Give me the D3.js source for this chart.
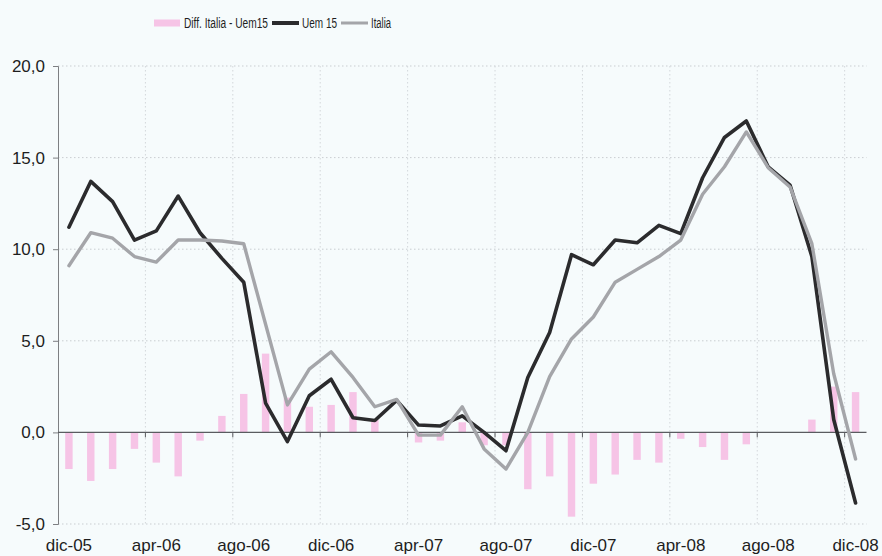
<!DOCTYPE html>
<html>
<head>
<meta charset="utf-8">
<script src="https://cdn.jsdelivr.net/npm/d3@7"></script>
<style>
	html, body { margin: 0; padding: 0; background: #f6fbfc; }
	svg { display: block; font-family: 'Liberation Sans', Arial, sans-serif; }
</style>
</head>
<body>
<svg id="chart"></svg>
<script>
// monthly figures, dic-05 .. dic-08
const months = [
	'dic-05', 'gen-06', 'feb-06', 'mar-06', 'apr-06', 'mag-06', 'giu-06', 'lug-06', 'ago-06',
	'set-06', 'ott-06', 'nov-06', 'dic-06', 'gen-07', 'feb-07', 'mar-07', 'apr-07', 'mag-07',
	'giu-07', 'lug-07', 'ago-07', 'set-07', 'ott-07', 'nov-07', 'dic-07', 'gen-08', 'feb-08',
	'mar-08', 'apr-08', 'mag-08', 'giu-08', 'lug-08', 'ago-08', 'set-08', 'ott-08', 'nov-08', 'dic-08'
];
const uem15 = [
	11.2, 13.7, 12.6, 10.5, 11.0, 12.9, 10.9, 9.5, 8.2,
	1.6, -0.5, 2.0, 2.9, 0.8, 0.65, 1.75, 0.4, 0.35,
	0.9, 0.0, -1.0, 3.0, 5.45, 9.7, 9.15, 10.5, 10.35,
	11.3, 10.85, 13.9, 16.1, 17.0, 14.5, 13.5, 9.6, 0.7, -3.85
];
const italia = [
	9.1, 10.9, 10.6, 9.6, 9.3, 10.5, 10.5, 10.45, 10.3,
	5.9, 1.5, 3.45, 4.4, 3.0, 1.4, 1.8, -0.15, -0.15,
	1.4, -0.9, -2.0, 0.0, 3.05, 5.1, 6.3, 8.2, 8.9,
	9.6, 10.5, 13.0, 14.5, 16.4, 14.45, 13.4, 10.3, 3.2, -1.45
];
const diff = [
	-2.0, -2.65, -2.0, -0.9, -1.65, -2.4, -0.45, 0.9, 2.1,
	4.3, 1.9, 1.4, 1.5, 2.2, 0.7, 0, -0.55, -0.45,
	0.55, -0.7, -0.7, -3.1, -2.4, -4.6, -2.8, -2.3, -1.5,
	-1.65, -0.35, -0.8, -1.5, -0.65, 0, 0, 0.7, 2.5, 2.2
];
const yTicks = [-5, 0, 5, 10, 15, 20];
const legendItems = [
	{ label: 'Diff. Italia - Uem15', kind: 'bar', width: 84 },
	{ label: 'Uem 15', kind: 'uem', width: 35 },
	{ label: 'Italia', kind: 'ita', width: 20 }
];

const W = 882;
const H = 556;
const margin = { top: 66, right: 15.5, bottom: 32, left: 58 };

const colors = { bar: '#f6c4e6', uem: '#2b2b2d', ita: '#a4a5a9' };

const $svg = d3.select('#chart').attr('width', W).attr('height', H);

const x = d3.scaleBand()
	.domain(months)
	.range([margin.left, W - margin.right]);
const y = d3.scaleLinear()
	.domain([-5, 20])
	.range([H - margin.bottom, margin.top]);

const bw = x.bandwidth();
const cx = d => x(d) + bw / 2;
const fmt = d => d.toFixed(1).replace('.', ',');

// every 4th month gets a label, boundaries get ticks
const labelMonths = months.filter((d, i) => i % 4 === 0);
const tickMonths = months.filter((d, i) => i % 4 === 0 && i > 0);

// grid
const $grid = $svg.append('g').attr('class', 'grid');
$grid.selectAll('.hgrid')
	.data(yTicks.filter(d => d !== 0))
	.enter()
	.append('line')
	.attr('x1', margin.left)
	.attr('x2', W - margin.right)
	.attr('y1', d => y(d))
	.attr('y2', d => y(d))
	.attr('stroke', '#c9cdd1')
	.attr('stroke-dasharray', '1.5,2.5');
$grid.selectAll('.vgrid')
	.data(tickMonths)
	.enter()
	.append('line')
	.attr('x1', d => x(d))
	.attr('x2', d => x(d))
	.attr('y1', y(20))
	.attr('y2', y(-5))
	.attr('stroke', '#d3d7db')
	.attr('stroke-dasharray', '1.5,2.5');

// bars
$svg.append('g')
	.selectAll('rect')
	.data(diff)
	.enter()
	.append('rect')
	.attr('x', (d, i) => cx(months[i]) - bw * 0.17)
	.attr('width', bw * 0.34)
	.attr('y', d => y(Math.max(0, d)))
	.attr('height', d => Math.abs(y(d) - y(0)))
	.attr('fill', colors.bar);

// y axis
const $yAxis = $svg.append('g')
	.attr('transform', `translate(${margin.left},0)`)
	.call(d3.axisLeft(y).tickValues(yTicks).tickFormat(fmt).tickSize(5).tickPadding(8));
$yAxis.select('.domain').attr('stroke', '#7d7f82');
$yAxis.selectAll('.tick line').attr('stroke', '#7d7f82');
$yAxis.selectAll('text').attr('font-size', 17).attr('fill', '#1e1e1e');

// zero line with ticks at month boundaries
$svg.append('line')
	.attr('x1', margin.left)
	.attr('x2', W - margin.right)
	.attr('y1', y(0))
	.attr('y2', y(0))
	.attr('stroke', '#5a5c60')
	.attr('stroke-width', 1.2);
$svg.append('g')
	.selectAll('line')
	.data(tickMonths)
	.enter()
	.append('line')
	.attr('x1', d => x(d))
	.attr('x2', d => x(d))
	.attr('y1', y(0))
	.attr('y2', y(0) + 5)
	.attr('stroke', '#5a5c60');

// month labels along the bottom
const $xAxis = $svg.append('g')
	.attr('transform', `translate(0,${y(-5)})`)
	.call(d3.axisBottom(x).tickValues(labelMonths).tickSize(0).tickPadding(15));
$xAxis.select('.domain').remove();
$xAxis.selectAll('text').attr('font-size', 17).attr('fill', '#1e1e1e');

// lines
const line = d3.line()
	.x((d, i) => cx(months[i]))
	.y(d => y(d));

$svg.append('path')
	.datum(uem15)
	.attr('d', line)
	.attr('fill', 'none')
	.attr('stroke', colors.uem)
	.attr('stroke-width', 3.6)
	.attr('stroke-linejoin', 'round')
	.attr('stroke-linecap', 'round');

$svg.append('path')
	.datum(italia)
	.attr('d', line)
	.attr('fill', 'none')
	.attr('stroke', colors.ita)
	.attr('stroke-width', 3.4)
	.attr('stroke-linejoin', 'round')
	.attr('stroke-linecap', 'round');

// legend
const $legend = $svg.append('g').attr('transform', 'translate(154,23)');
let lx = 0;
legendItems.forEach(item => {
	const $item = $legend.append('g').attr('transform', `translate(${lx},0)`);
	if (item.kind === 'bar') {
		$item.append('rect')
			.attr('x', 0).attr('y', -3.5)
			.attr('width', 26).attr('height', 7)
			.attr('fill', colors.bar);
	} else {
		$item.append('line')
			.attr('x1', 0).attr('x2', 27)
			.attr('stroke', colors[item.kind])
			.attr('stroke-width', item.kind === 'uem' ? 4 : 3);
	}
	$item.append('text')
		.attr('x', 30)
		.attr('dy', '0.35em')
		.attr('font-size', 14)
		.attr('textLength', item.width)
		.attr('lengthAdjust', 'spacingAndGlyphs')
		.attr('fill', '#1e1e1e')
		.text(item.label);
	lx += 30 + item.width + 4;
});
</script>
</body>
</html>
